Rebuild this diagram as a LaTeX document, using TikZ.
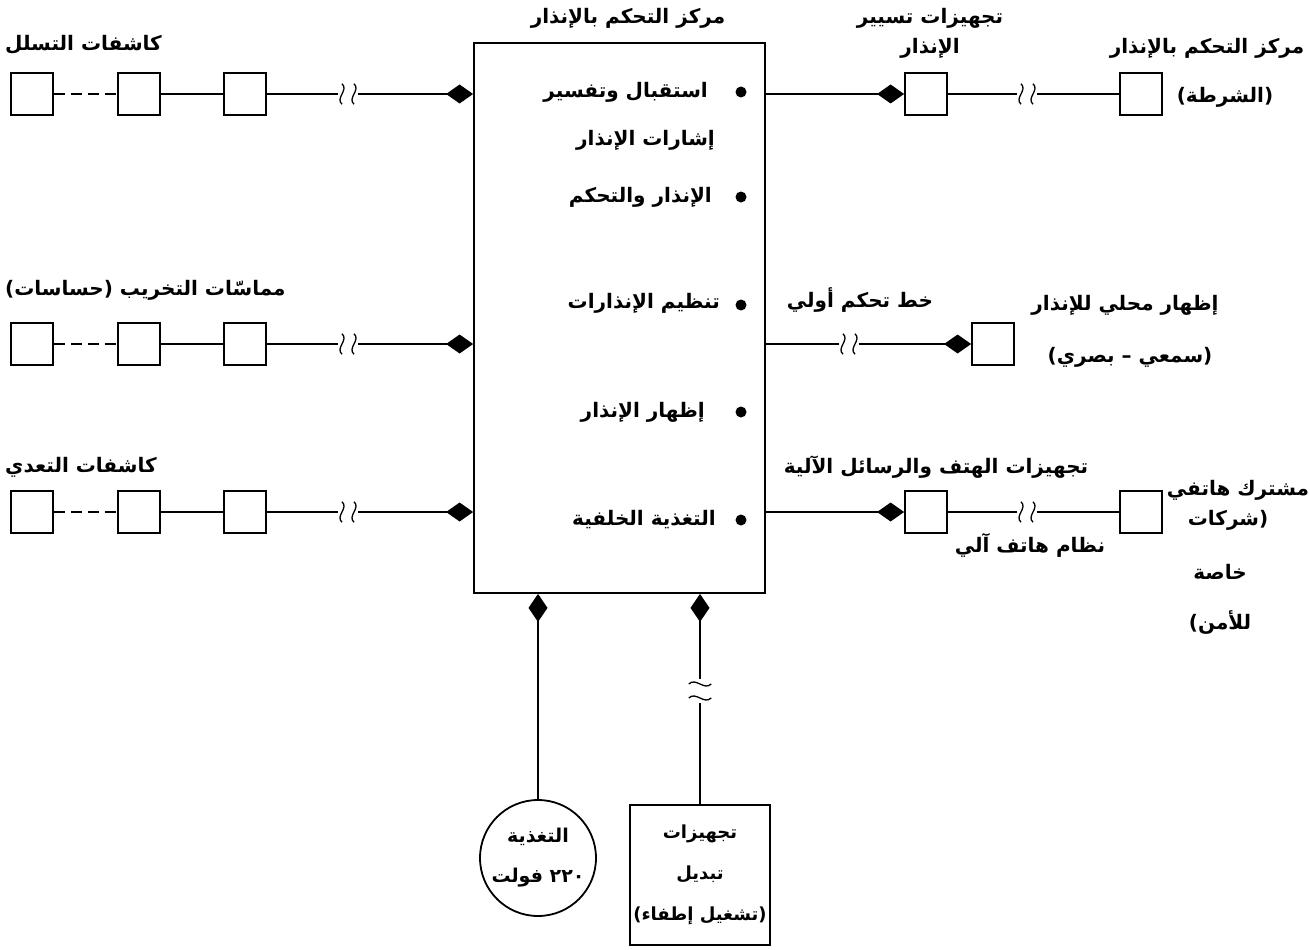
\documentclass[tikz,border=0pt]{standalone}
\usepackage{fontspec}
\usetikzlibrary{arrows.meta,positioning}
\newfontfamily\arab[Script=Arabic]{DejaVu Sans}
\TeXXeTstate=1
\newcommand{\ar}[1]{\beginR#1\endR}

\begin{document}
\begin{tikzpicture}
		[x=1pt,y=-1pt,
		unit/.style ={rectangle, draw=black, line width=1.8pt, minimum size=42pt, inner sep=0pt},
		hub/.style ={rectangle, draw=black, line width=1.8pt, minimum width=291pt, minimum height=550pt},
		txt/.style ={font={\arab\bfseries\fontsize{20}{30}\selectfont}, inner sep=0pt, align=center},
		wire/.style ={draw, line width=1.8pt},
		dia/.style ={-{Diamond[length=27pt,width=19pt]}},
		diab/.style ={{Diamond[length=28pt,width=19pt]}-},
		gap/.style ={inner sep=0pt, minimum width=20pt, minimum height=20pt},
		vgap/.style ={inner sep=0pt, minimum width=22pt, minimum height=24pt},
		dot/.style ={circle, fill=black, inner sep=0pt, minimum size=11pt}]
		\useasboundingbox (0,0) rectangle (1310,950);

		% central unit
		\node[hub] (hub) at (619.5,318) {};
		\node[txt] (hubt) at (628,18) {\ar{مركز التحكم بالإنذار}};
		\foreach \y in {92,197,305,412,520}
			\node[dot] (d\y) at (741,\y) {};
		\node[txt, anchor=east] (i1) at (708,92) {\ar{استقبال وتفسير}};
		\node[txt, anchor=east] (i2) at (715,140) {\ar{إشارات الإنذار}};
		\node[txt, anchor=east] (i3) at (712,197) {\ar{الإنذار والتحكم}};
		\node[txt, anchor=east] (i4) at (720,303) {\ar{تنظيم الإنذارات}};
		\node[txt, anchor=east] (i5) at (705,412) {\ar{إظهار الإنذار}};
		\node[txt, anchor=east] (i6) at (716,520) {\ar{التغذية الخلفية}};

		% detector loops
		\foreach \row/\y in {1/94,2/344,3/512} {
			\node[unit] (l\row a) at (32,\y) {};
			\node[unit] (l\row b) at (139,\y) {};
			\node[unit] (l\row c) at (245,\y) {};
			\node[gap] (l\row g) at (348,\y) {};
			\draw[wire, dash pattern=on 11pt off 6pt] (l\row a) -- (l\row b);
			\draw[wire] (l\row b) -- (l\row c) (l\row c) -- (l\row g);
			\draw[wire, dia] (l\row g) -- (l\row g -| hub.west);
		}
		\node[txt, anchor=west] (la1) at (5,45) {\ar{كاشفات التسلل}};
		\node[txt, anchor=west] (la2) at (5,290) {\ar{مماسّات التخريب (حساسات)}};
		\node[txt, anchor=west] (la3) at (5,467) {\ar{كاشفات التعدي}};

		% right side
		\node[unit] (r1a) at (926,94) {};
		\node[gap] (r1g) at (1027,94) {};
		\node[unit] (r1b) at (1141,94) {};
		\draw[wire, dia] (hub.east |- r1a) -- (r1a);
		\draw[wire] (r1a) -- (r1g) (r1g) -- (r1b);
		\node[txt] (ra1) at (930,33) {\ar{تجهيزات تسيير}\\\ar{الإنذار}};
		\node[txt] (ra2) at (1207,48) {\ar{مركز التحكم بالإنذار}};
		\node[txt] (ra3) at (1225,97) {\ar{(الشرطة)}};

		\node[gap] (r2g) at (849,344) {};
		\node[unit] (r2a) at (993,344) {};
		\draw[wire] (hub.east |- r2g) -- (r2g);
		\draw[wire, dia] (r2g) -- (r2a);
		\node[txt] (rb1) at (860,300) {\ar{خط تحكم أولي}};
		\node[txt] (rb2) at (1125,305) {\ar{إظهار محلي للإنذار}};
		\node[txt] (rb3) at (1130,357) {\ar{(سمعي – بصري)}};

		\node[unit] (r3a) at (926,512) {};
		\node[gap] (r3g) at (1027,512) {};
		\node[unit] (r3b) at (1141,512) {};
		\draw[wire, dia] (hub.east |- r3a) -- (r3a);
		\draw[wire] (r3a) -- (r3g) (r3g) -- (r3b);
		\node[txt] (rc1) at (936,467) {\ar{تجهيزات الهتف والرسائل الآلية}};
		\node[txt] (rc2) at (1030,545) {\ar{نظام هاتف آلي}};
		\node[txt] (rc3) at (1238,490) {\ar{مشترك هاتفي}};
		\node[txt] (rc4) at (1228,520) {\ar{شركات}(};
		\node[txt] (rc5) at (1220,572) {\ar{خاصة}};
		\node[txt] (rc6) at (1220,622) {)\ar{للأمن}};

		% line breaks
		\foreach \g in {l1g,l2g,l3g,r1g,r2g,r3g}
			\foreach \s in {-6,6}
				\draw[wire, line width=1.3pt] ([xshift=\s pt]\g.north) .. controls +(7,6) and +(-7,-6) .. ([xshift=\s pt]\g.south);

		% supply and switching
		\node[circle, draw, line width=1.8pt, minimum size=116pt, inner sep=0pt] (psu) at (538,858) {};
		\node[txt, font={\arab\bfseries\fontsize{19}{40}\selectfont}] (psut) at (psu) {\ar{التغذية}\\\ar{٢٢٠ فولت}};
		\draw[wire, diab] (hub.south -| psu) -- (psu);

		\node[unit, minimum size=140pt, txt, font={\arab\bfseries\fontsize{18}{41}\selectfont}] (sw) at (700,875)
			{\ar{تجهيزات}\\\ar{تبديل}\\\ar{(تشغيل إطفاء)}};
		\node[vgap] (bg) at (700,691) {};
		\draw[wire, diab] (hub.south -| bg) -- (bg);
		\draw[wire] (bg) -- (sw);
		\foreach \s in {-7,7}
			\draw[wire, line width=1.3pt] ([yshift=\s pt]bg.west) .. controls +(7,-7) and +(-7,7) .. ([yshift=\s pt]bg.east);

	\end{tikzpicture}
\end{document}
